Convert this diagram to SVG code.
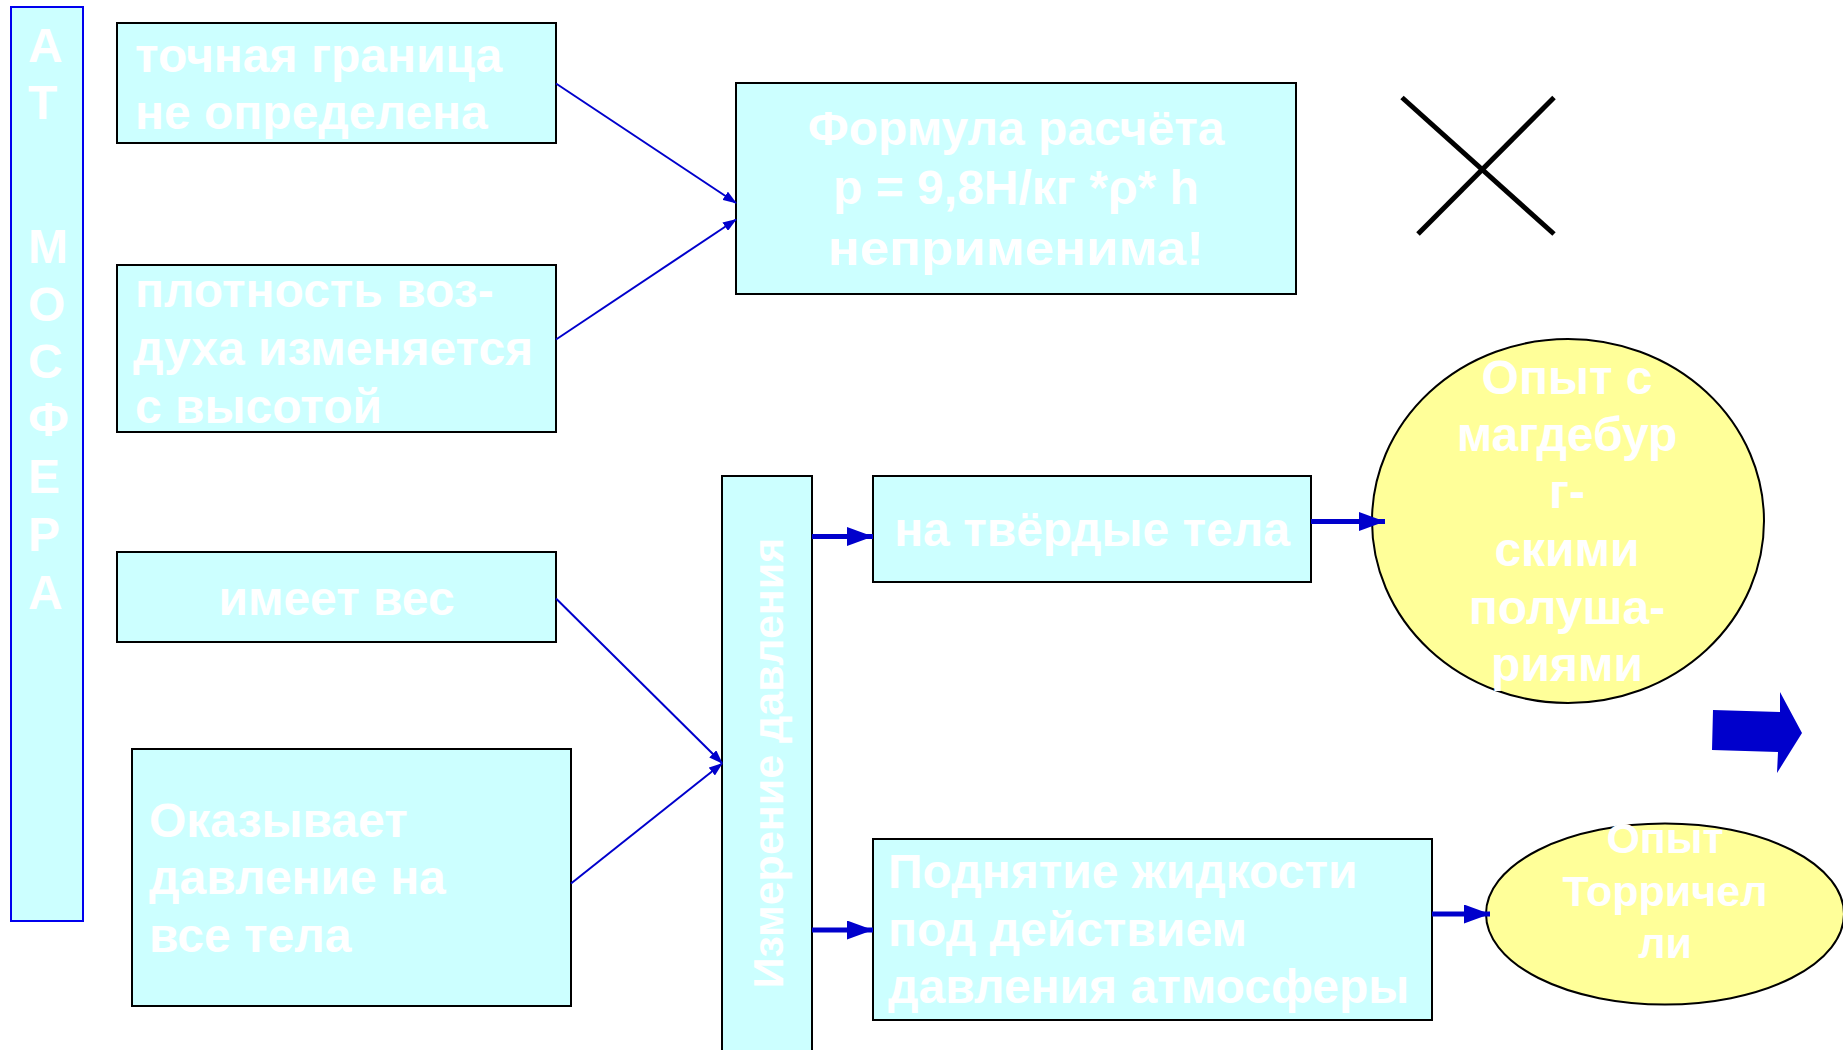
<svg xmlns="http://www.w3.org/2000/svg" width="1843" height="1050" viewBox="0 0 1843 1050">
<style>
.box{fill:#ccffff;stroke:#000;stroke-width:2}
.ell{fill:#ffff99;stroke:#000;stroke-width:2}
.t{font-family:"Liberation Sans",Arial,sans-serif;font-weight:bold;fill:#fff;font-size:48px}
.c{text-anchor:middle}
.thin{stroke:#0000cc;stroke-width:2;fill:none}
.thick{stroke:#0000cc;stroke-width:5;fill:none}
</style>
<defs>
<marker id="ah" markerUnits="userSpaceOnUse" markerWidth="14" markerHeight="10" refX="13" refY="5" orient="auto"><path d="M0,0 L14,5 L0,10 z" fill="#0000cc"/></marker>
<marker id="ahb" markerUnits="userSpaceOnUse" markerWidth="27" markerHeight="20" refX="26" refY="9.5" orient="auto"><path d="M0,0 L26,9.5 L0,19 z" fill="#0000cc"/></marker>
</defs>
<rect width="1843" height="1050" fill="#fff"/>
<g id="atmosfera">
<rect x="11" y="7" width="72" height="914" fill="#ccffff" stroke="#0000ee" stroke-width="2"/>
<text class="t" x="28" y="62">А</text>
<text class="t" x="28" y="119">Т</text>
<text class="t" x="28" y="263">М</text>
<text class="t" x="28" y="321">О</text>
<text class="t" x="28" y="378">С</text>
<text class="t" x="28" y="436">Ф</text>
<text class="t" x="28" y="493">Е</text>
<text class="t" x="28" y="551">Р</text>
<text class="t" x="28" y="609">А</text>
</g>
<g id="granica">
<rect class="box" x="117" y="23" width="439" height="120"/>
<text class="t" x="135" y="72">точная граница</text>
<text class="t" x="135" y="129">не определена</text>
</g>
<g id="plotnost">
<rect class="box" x="117" y="265" width="439" height="167"/>
<text class="t" x="135" y="307">плотность воз-</text>
<text class="t" x="133" y="365">духа изменяется</text>
<text class="t" x="135" y="423">с высотой</text>
</g>
<g id="ves">
<rect class="box" x="117" y="552" width="439" height="90"/>
<text class="t c" x="336.5" y="615">имеет вес</text>
</g>
<g id="davlenie">
<rect class="box" x="132" y="749" width="439" height="257"/>
<text class="t" x="149" y="837">Оказывает</text>
<text class="t" x="149" y="894">давление на</text>
<text class="t" x="149" y="952">все тела</text>
</g>
<g id="formula">
<rect class="box" x="736" y="83" width="560" height="211"/>
<text class="t c" x="1016" y="145">Формула расчёта</text>
<text class="t c" x="1016" y="204">p = 9,8Н/кг *ρ* h</text>
<text class="t c" x="1016" y="265" textLength="376" lengthAdjust="spacingAndGlyphs">неприменима!</text>
</g>
<g id="cross">
<line x1="1402" y1="97.5" x2="1554" y2="234" stroke="#000" stroke-width="5"/>
<line x1="1554" y1="97.5" x2="1418" y2="234" stroke="#000" stroke-width="5"/>
</g>
<g id="izmerenie">
<rect class="box" x="722" y="476" width="90" height="590"/>
<text class="t c" style="font-size:43px" transform="translate(783,763) rotate(-90)">Измерение давления</text>
</g>
<g id="tverdye">
<rect class="box" x="873" y="476" width="438" height="106"/>
<text class="t c" x="1092" y="546">на твёрдые тела</text>
</g>
<g id="podnyatie">
<rect class="box" x="873" y="839" width="559" height="181"/>
<text class="t" x="888" y="888">Поднятие жидкости</text>
<text class="t" x="888" y="946">под действием</text>
<text class="t" x="888" y="1003">давления атмосферы</text>
</g>
<g id="magdeburg">
<ellipse class="ell" cx="1568" cy="521" rx="196" ry="182"/>
<text class="t c" x="1567" y="394">Опыт с</text>
<text class="t c" x="1567" y="451">магдебур</text>
<text class="t c" x="1567" y="508">г-</text>
<text class="t c" x="1567" y="566">скими</text>
<text class="t c" x="1567" y="624">полуша-</text>
<text class="t c" x="1567" y="681">риями</text>
</g>
<g id="torricelli">
<ellipse class="ell" cx="1665" cy="914" rx="179" ry="90.5"/>
<text class="t c" style="font-size:43px" x="1665" y="853">Опыт</text>
<text class="t c" style="font-size:43px" x="1665" y="906">Торричел</text>
<text class="t c" style="font-size:43px" x="1665" y="958">ли</text>
</g>
<g id="next-arrow">
<polygon points="1713,710 1780,712 1780,692 1802,733 1777,773 1778,752 1712,750" fill="#0000cc"/>
</g>
<g id="connectors">
<line class="thin" x1="556" y1="83.5" x2="736" y2="203" marker-end="url(#ah)"/>
<line class="thin" x1="556" y1="339.5" x2="736" y2="219.5" marker-end="url(#ah)"/>
<line class="thin" x1="556" y1="598.5" x2="722" y2="763" marker-end="url(#ah)"/>
<line class="thin" x1="571" y1="883.5" x2="722" y2="763.5" marker-end="url(#ah)"/>
<line class="thick" x1="812" y1="536.5" x2="873" y2="536.5" marker-end="url(#ahb)"/>
<line class="thick" x1="1311" y1="521.5" x2="1385" y2="521.5" marker-end="url(#ahb)"/>
<line class="thick" x1="812" y1="930" x2="873" y2="930" marker-end="url(#ahb)"/>
<line class="thick" x1="1432" y1="914" x2="1490" y2="914" marker-end="url(#ahb)"/>
</g>
</svg>
